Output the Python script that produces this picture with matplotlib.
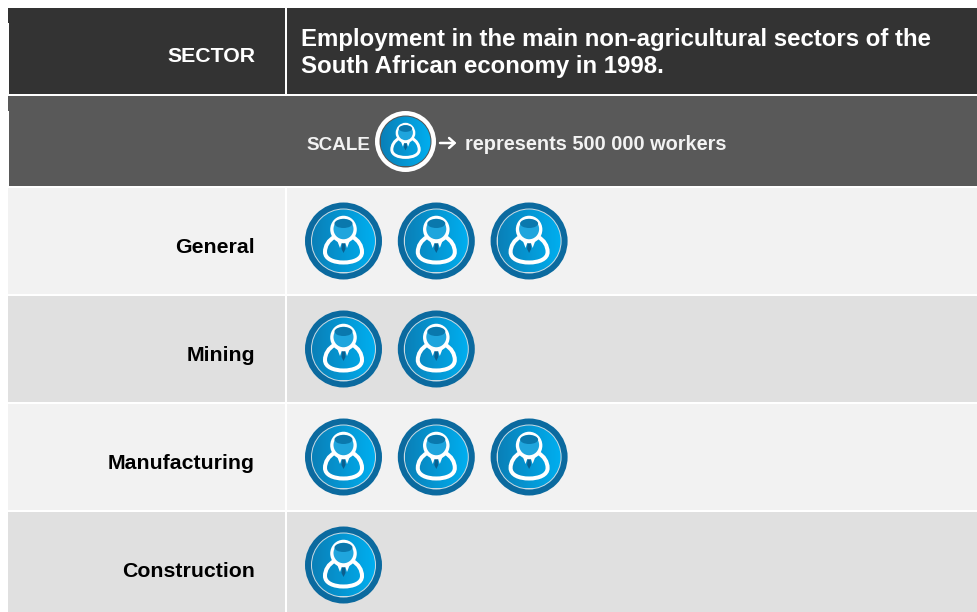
import numpy as np
import matplotlib
matplotlib.use("Agg")
import matplotlib.pyplot as plt
from matplotlib.colors import LinearSegmentedColormap
from matplotlib.patches import Circle, Ellipse, PathPatch, Polygon, Rectangle
from matplotlib.path import Path

plt.rcParams["font.family"] = ["Liberation Sans", "DejaVu Sans"]

# data
sectors = ["General", "Mining", "Manufacturing", "Construction"]
workers = [1500000, 1000000, 1500000, 500000]
per_icon = 500000
sector_header = "SECTOR"
title_lines = "Employment in the main non-agricultural sectors of the\nSouth African economy in 1998."
scale_word = "SCALE"
scale_text = "represents 500 000 workers"

# layout, in pixels
row_tops = [188, 296, 404, 512]
row_bottoms = [294, 402, 510, 612]
row_colors = ["#f2f2f2", "#e0e0e0", "#f2f2f2", "#e0e0e0"]
first_icon_x = 343.5
icon_step = 92.8

blue_map = LinearSegmentedColormap.from_list("icon", ["#0a80b8", "#00aeef"])

# rounded shoulders of the person, relative to the icon centre
body_points = np.array([(-9, -4), (-15, -1), (-18.5, 5), (-18.5, 11),
                        (-18.5, 18), (-10, 21.5), (0, 21.5),
                        (10, 21.5), (18.5, 18), (18.5, 11),
                        (18.5, 5), (15, -1), (9, -4)], dtype=float)
body_codes = [Path.MOVETO] + [Path.CURVE4] * 12


def draw_person(ax, cx, cy, s, z):
    lw = 2.9 * s
    # body outline, then collar and tie, then the head on top
    ax.add_patch(PathPatch(Path(body_points * s + (cx, cy), body_codes), fc="none", ec="white", lw=lw, zorder=z))
    ax.add_patch(Polygon([(cx - 1.2 * s, cy - 1 * s), (cx + 1.2 * s, cy - 1 * s),
                          (cx + 2 * s, cy + 8 * s), (cx, cy + 12 * s), (cx - 2 * s, cy + 8 * s)],
                         fc="#0a5f8f", ec="none", zorder=z + 1))
    ax.add_patch(Polygon([(cx - 7 * s, cy - 2 * s), (cx - 1.5 * s, cy + 1 * s), (cx - 3.5 * s, cy + 7 * s)],
                         fc="white", ec="none", zorder=z + 1))
    ax.add_patch(Polygon([(cx + 7 * s, cy - 2 * s), (cx + 1.5 * s, cy + 1 * s), (cx + 3.5 * s, cy + 7 * s)],
                         fc="white", ec="none", zorder=z + 1))
    ax.add_patch(Ellipse((cx, cy - 11.5 * s), 22.5 * s, 23.5 * s, fc="white", ec="white", lw=lw, zorder=z + 2))
    ax.add_patch(Ellipse((cx, cy - 12 * s), 20 * s, 20.5 * s, fc="#1fa5dd", ec="none", zorder=z + 3))
    ax.add_patch(Ellipse((cx, cy - 17.5 * s), 18 * s, 9 * s, fc="#0a78ad", ec="none", zorder=z + 4))


def draw_gradient_disc(ax, cx, cy, r, z):
    grad = np.linspace(0, 1, 64).reshape(1, -1)
    im = ax.imshow(grad, cmap=blue_map, extent=(cx - r, cx + r, cy + r, cy - r), aspect="auto", zorder=z)
    im.set_clip_path(Circle((cx, cy), r, transform=ax.transData))


def draw_icon(ax, cx, cy):
    ax.add_patch(Circle((cx, cy), 38.5, fc="#0b6a9f", ec="none", zorder=3))
    ax.add_patch(Circle((cx, cy), 32.5, fc="#c9dbe4", ec="none", zorder=4))
    draw_gradient_disc(ax, cx, cy, 31.5, 5)
    draw_person(ax, cx, cy, 1.0, 6)


def draw_scale_icon(ax, cx, cy):
    ax.add_patch(Circle((cx, cy), 30.5, fc="white", ec="none", zorder=3))
    ax.add_patch(Circle((cx, cy), 26, fc="#555555", ec="none", zorder=4))
    draw_gradient_disc(ax, cx, cy, 25, 5)
    draw_person(ax, cx, cy, 0.74, 6)


fig = plt.figure(figsize=(9.77, 6.12), dpi=100, facecolor="white")
ax = fig.add_axes([0, 0, 1, 1])
ax.set_xlim(0, 977)
ax.set_ylim(612, 0)
ax.axis("off")

# header
ax.add_patch(Rectangle((9, 8), 276, 86, fc="#333333", ec="none"))
ax.add_patch(Rectangle((8, 8), 1, 15, fc="#333333", ec="none"))
ax.add_patch(Rectangle((287, 8), 690, 86, fc="#333333", ec="none"))
ax.text(255, 62.5, sector_header, color="white", fontsize=15.3, fontweight="bold", ha="right", va="baseline")
ax.text(301, 72.5, title_lines, color="white", fontsize=17.25, fontweight="bold", ha="left", va="baseline", linespacing=1.18)

# scale band
ax.add_patch(Rectangle((9, 95.5), 968, 90.5, fc="#595959", ec="none"))
ax.add_patch(Rectangle((8, 95.5), 1, 15, fc="#595959", ec="none"))
ax.text(370, 150.5, scale_word, color="#f2f2f2", fontsize=13.6, fontweight="bold", ha="right", va="baseline")
draw_scale_icon(ax, 405.5, 141.5)
ax.annotate("", xy=(456.5, 143), xytext=(440, 143),
            arrowprops=dict(arrowstyle="->,head_length=0.4,head_width=0.36", color="white", lw=1.8, shrinkA=0, shrinkB=0))
ax.text(465, 150.5, scale_text, color="#f2f2f2", fontsize=14.4, fontweight="bold", ha="left", va="baseline")

# rows
for i in range(len(sectors)):
    top = row_tops[i]
    height = row_bottoms[i] - top
    ax.add_patch(Rectangle((8, top), 277, height, fc=row_colors[i], ec="none"))
    ax.add_patch(Rectangle((287, top), 690, height, fc=row_colors[i], ec="none"))
    ax.text(255, top + 65, sectors[i], color="black", fontsize=15.3, fontweight="bold", ha="right", va="baseline")
    for j in range(workers[i] // per_icon):
        draw_icon(ax, first_icon_x + j * icon_step, top + 53)

ax.set_xlim(0, 977)
ax.set_ylim(612, 0)
fig.savefig("out.png", dpi=100, facecolor="white")
